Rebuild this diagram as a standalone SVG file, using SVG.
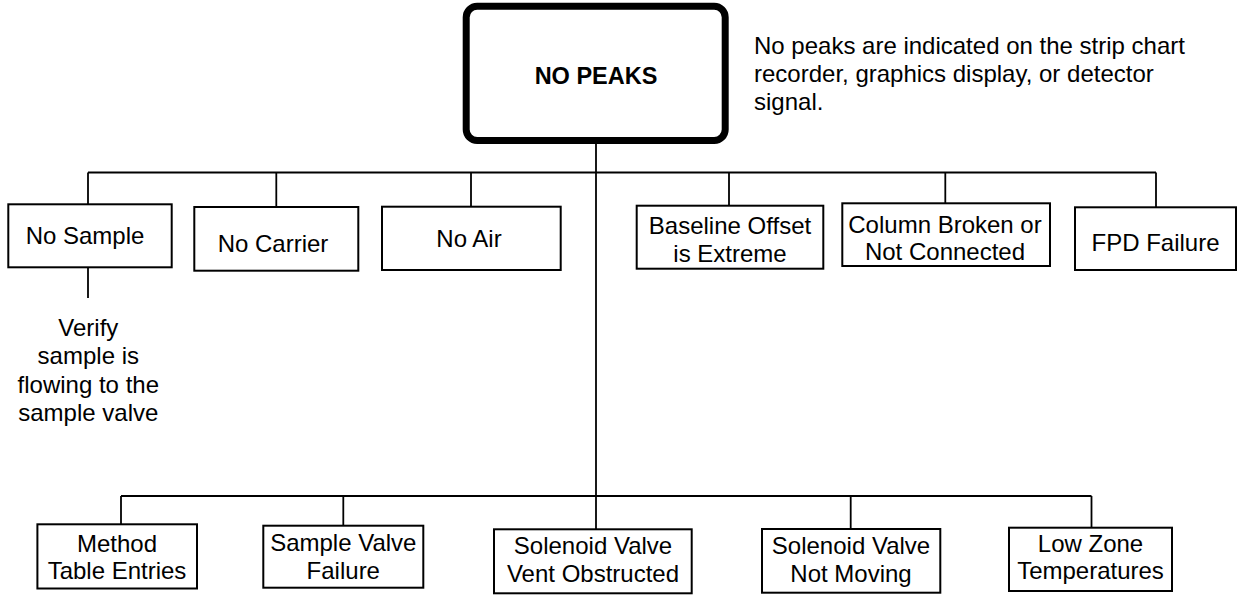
<svg xmlns="http://www.w3.org/2000/svg" width="1239" height="596" viewBox="0 0 1239 596">
<style>
  .bg { fill: #ffffff; }
  .box { fill: #ffffff; stroke: #000000; stroke-width: 2; }
  .main { fill: #ffffff; stroke: #000000; stroke-width: 7; }
  .ln { fill: none; stroke: #000000; stroke-width: 1.8; }
  text { font-family: "Liberation Sans", Arial, Helvetica, sans-serif; font-size: 24px; fill: #000000; }
  .c { text-anchor: middle; }
  .b { font-weight: bold; font-size: 23.5px; }
</style>
<rect class="bg" x="0" y="0" width="1239" height="596"/>

<g id="connectors">
  <path class="ln" d="M596 144 V496"/>
  <path class="ln" d="M88 172.5 H1156"/>
  <path class="ln" d="M88 172.5 V204.3"/>
  <path class="ln" d="M88 267.3 V298"/>
  <path class="ln" d="M276.3 172.5 V207"/>
  <path class="ln" d="M471 172.5 V206.7"/>
  <path class="ln" d="M729 172.5 V205.7"/>
  <path class="ln" d="M945.3 172.5 V203.3"/>
  <path class="ln" d="M1156 172.5 V207.3"/>
  <path class="ln" d="M121 496 H1091.5"/>
  <path class="ln" d="M121 496 V524.3"/>
  <path class="ln" d="M343.3 496 V525.7"/>
  <path class="ln" d="M596 496 V529.3"/>
  <path class="ln" d="M850.7 496 V529"/>
  <path class="ln" d="M1091.5 496 V527.7"/>
</g>

<g id="no-peaks">
  <rect class="main" x="466.2" y="6.2" width="259" height="134.3" rx="11"/>
  <text class="c b" x="596" y="84">NO PEAKS</text>
</g>

<g id="description">
  <text x="754" y="54">No peaks are indicated on the strip chart</text>
  <text x="754" y="82">recorder, graphics display, or detector</text>
  <text x="754" y="110">signal.</text>
</g>

<g id="no-sample">
  <rect class="box" x="8.3" y="204.3" width="163.4" height="63"/>
  <text class="c" x="85" y="244">No Sample</text>
</g>

<g id="verify-sample">
  <text class="c" x="88.3" y="335.7">Verify</text>
  <text class="c" x="88.3" y="364">sample is</text>
  <text class="c" x="88.3" y="392.7">flowing to the</text>
  <text class="c" x="88.3" y="421">sample valve</text>
</g>

<g id="no-carrier">
  <rect class="box" x="194.3" y="207" width="164" height="63.7"/>
  <text class="c" x="273" y="251.7">No Carrier</text>
</g>

<g id="no-air">
  <rect class="box" x="382" y="206.7" width="178.7" height="63.3"/>
  <text class="c" x="469" y="247">No Air</text>
</g>

<g id="baseline-offset">
  <rect class="box" x="636.7" y="205.7" width="186.6" height="63"/>
  <text class="c" x="730" y="234">Baseline Offset</text>
  <text class="c" x="730" y="261.7">is Extreme</text>
</g>

<g id="column-broken">
  <rect class="box" x="842.3" y="203.3" width="207.7" height="62.7"/>
  <text class="c" x="945" y="232.7">Column Broken or</text>
  <text class="c" x="945" y="260">Not Connected</text>
</g>

<g id="fpd-failure">
  <rect class="box" x="1075" y="207.3" width="161" height="62.7"/>
  <text class="c" x="1155.5" y="250.7">FPD Failure</text>
</g>

<g id="method-table">
  <rect class="box" x="37.4" y="524.3" width="159.6" height="64.2"/>
  <text class="c" x="117" y="551.7">Method</text>
  <text class="c" x="117" y="579.3">Table Entries</text>
</g>

<g id="sample-valve">
  <rect class="box" x="263.3" y="525.7" width="160" height="62"/>
  <text class="c" x="343.3" y="551">Sample Valve</text>
  <text class="c" x="343.3" y="579.3">Failure</text>
</g>

<g id="solenoid-vent">
  <rect class="box" x="494" y="529.3" width="197.7" height="64"/>
  <text class="c" x="593" y="554">Solenoid Valve</text>
  <text class="c" x="593" y="581.7">Vent Obstructed</text>
</g>

<g id="solenoid-moving">
  <rect class="box" x="762" y="529" width="178.3" height="63.7"/>
  <text class="c" x="851" y="554">Solenoid Valve</text>
  <text class="c" x="851" y="581.7">Not Moving</text>
</g>

<g id="low-zone">
  <rect class="box" x="1009" y="527.7" width="163" height="63.3"/>
  <text class="c" x="1090.5" y="552.3">Low Zone</text>
  <text class="c" x="1090.5" y="579">Temperatures</text>
</g>
</svg>
